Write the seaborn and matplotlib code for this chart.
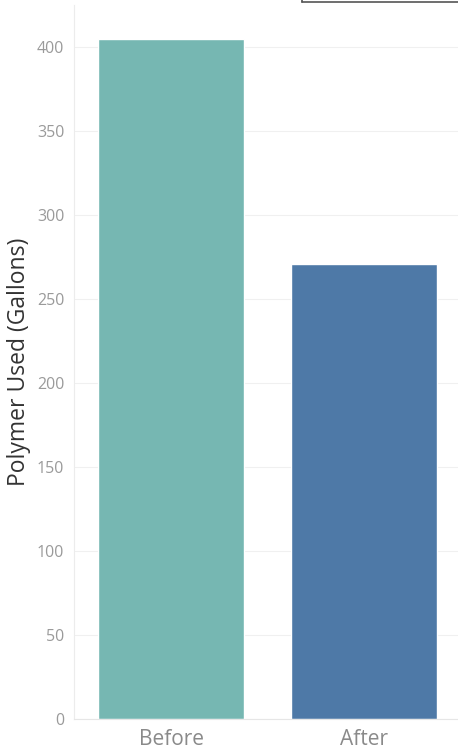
import matplotlib
matplotlib.use("Agg")
import matplotlib.pyplot as plt
import seaborn as sns
import pandas as pd
from matplotlib.lines import Line2D

categories = ["Before", "After"]
values = [405, 271]
colors = ["#76B7B2", "#4E79A7"]

sns.set_theme(style="white")
plt.rcParams['font.family'] = ['Open Sans', 'DejaVu Sans']

df = pd.DataFrame({"Period": categories, "Polymer": values})

fig = plt.figure(figsize=(4.58, 7.52), dpi=100)
ax = fig.add_axes([74/458, 1 - 719/752, (458 - 74)/458, (719 - 5)/752])

sns.barplot(data=df, x="Period", y="Polymer", hue="Period", palette=colors,
            order=categories, width=0.756, legend=False, ax=ax, saturation=1)

ax.set_xlim(-0.503, 1.487)
ax.set_ylim(0, 425)
ax.set_yticks(range(0, 401, 50))
ax.yaxis.grid(True, color="#f0f0f0", linewidth=0.8)
ax.set_axisbelow(True)
for s in ["top", "right"]:
    ax.spines[s].set_visible(False)
ax.spines["left"].set_color("#ececec")
ax.spines["bottom"].set_color("#e6e6e6")
ax.spines["left"].set_linewidth(0.8)
ax.spines["bottom"].set_linewidth(0.8)

ax.tick_params(axis="y", labelsize=11.5, labelcolor="#9a9a9a", length=0, pad=7)
ax.tick_params(axis="x", labelsize=15, labelcolor="#8a8a8a", length=0, pad=7)
ax.set_xlabel("")
ax.set_ylabel("Polymer Used (Gallons)", fontsize=16.5, color="#333333")
ax.yaxis.set_label_coords(-43/384, 0.5)

# fragment of a box at the top right
fig.add_artist(Line2D([302/458, 1.0], [1 - 2/752, 1 - 2/752], color="#555555", linewidth=1.2, transform=fig.transFigure))
fig.add_artist(Line2D([302/458, 302/458], [1.0, 1 - 2/752], color="#555555", linewidth=1.2, transform=fig.transFigure))

fig.savefig("out.png", dpi=100)
